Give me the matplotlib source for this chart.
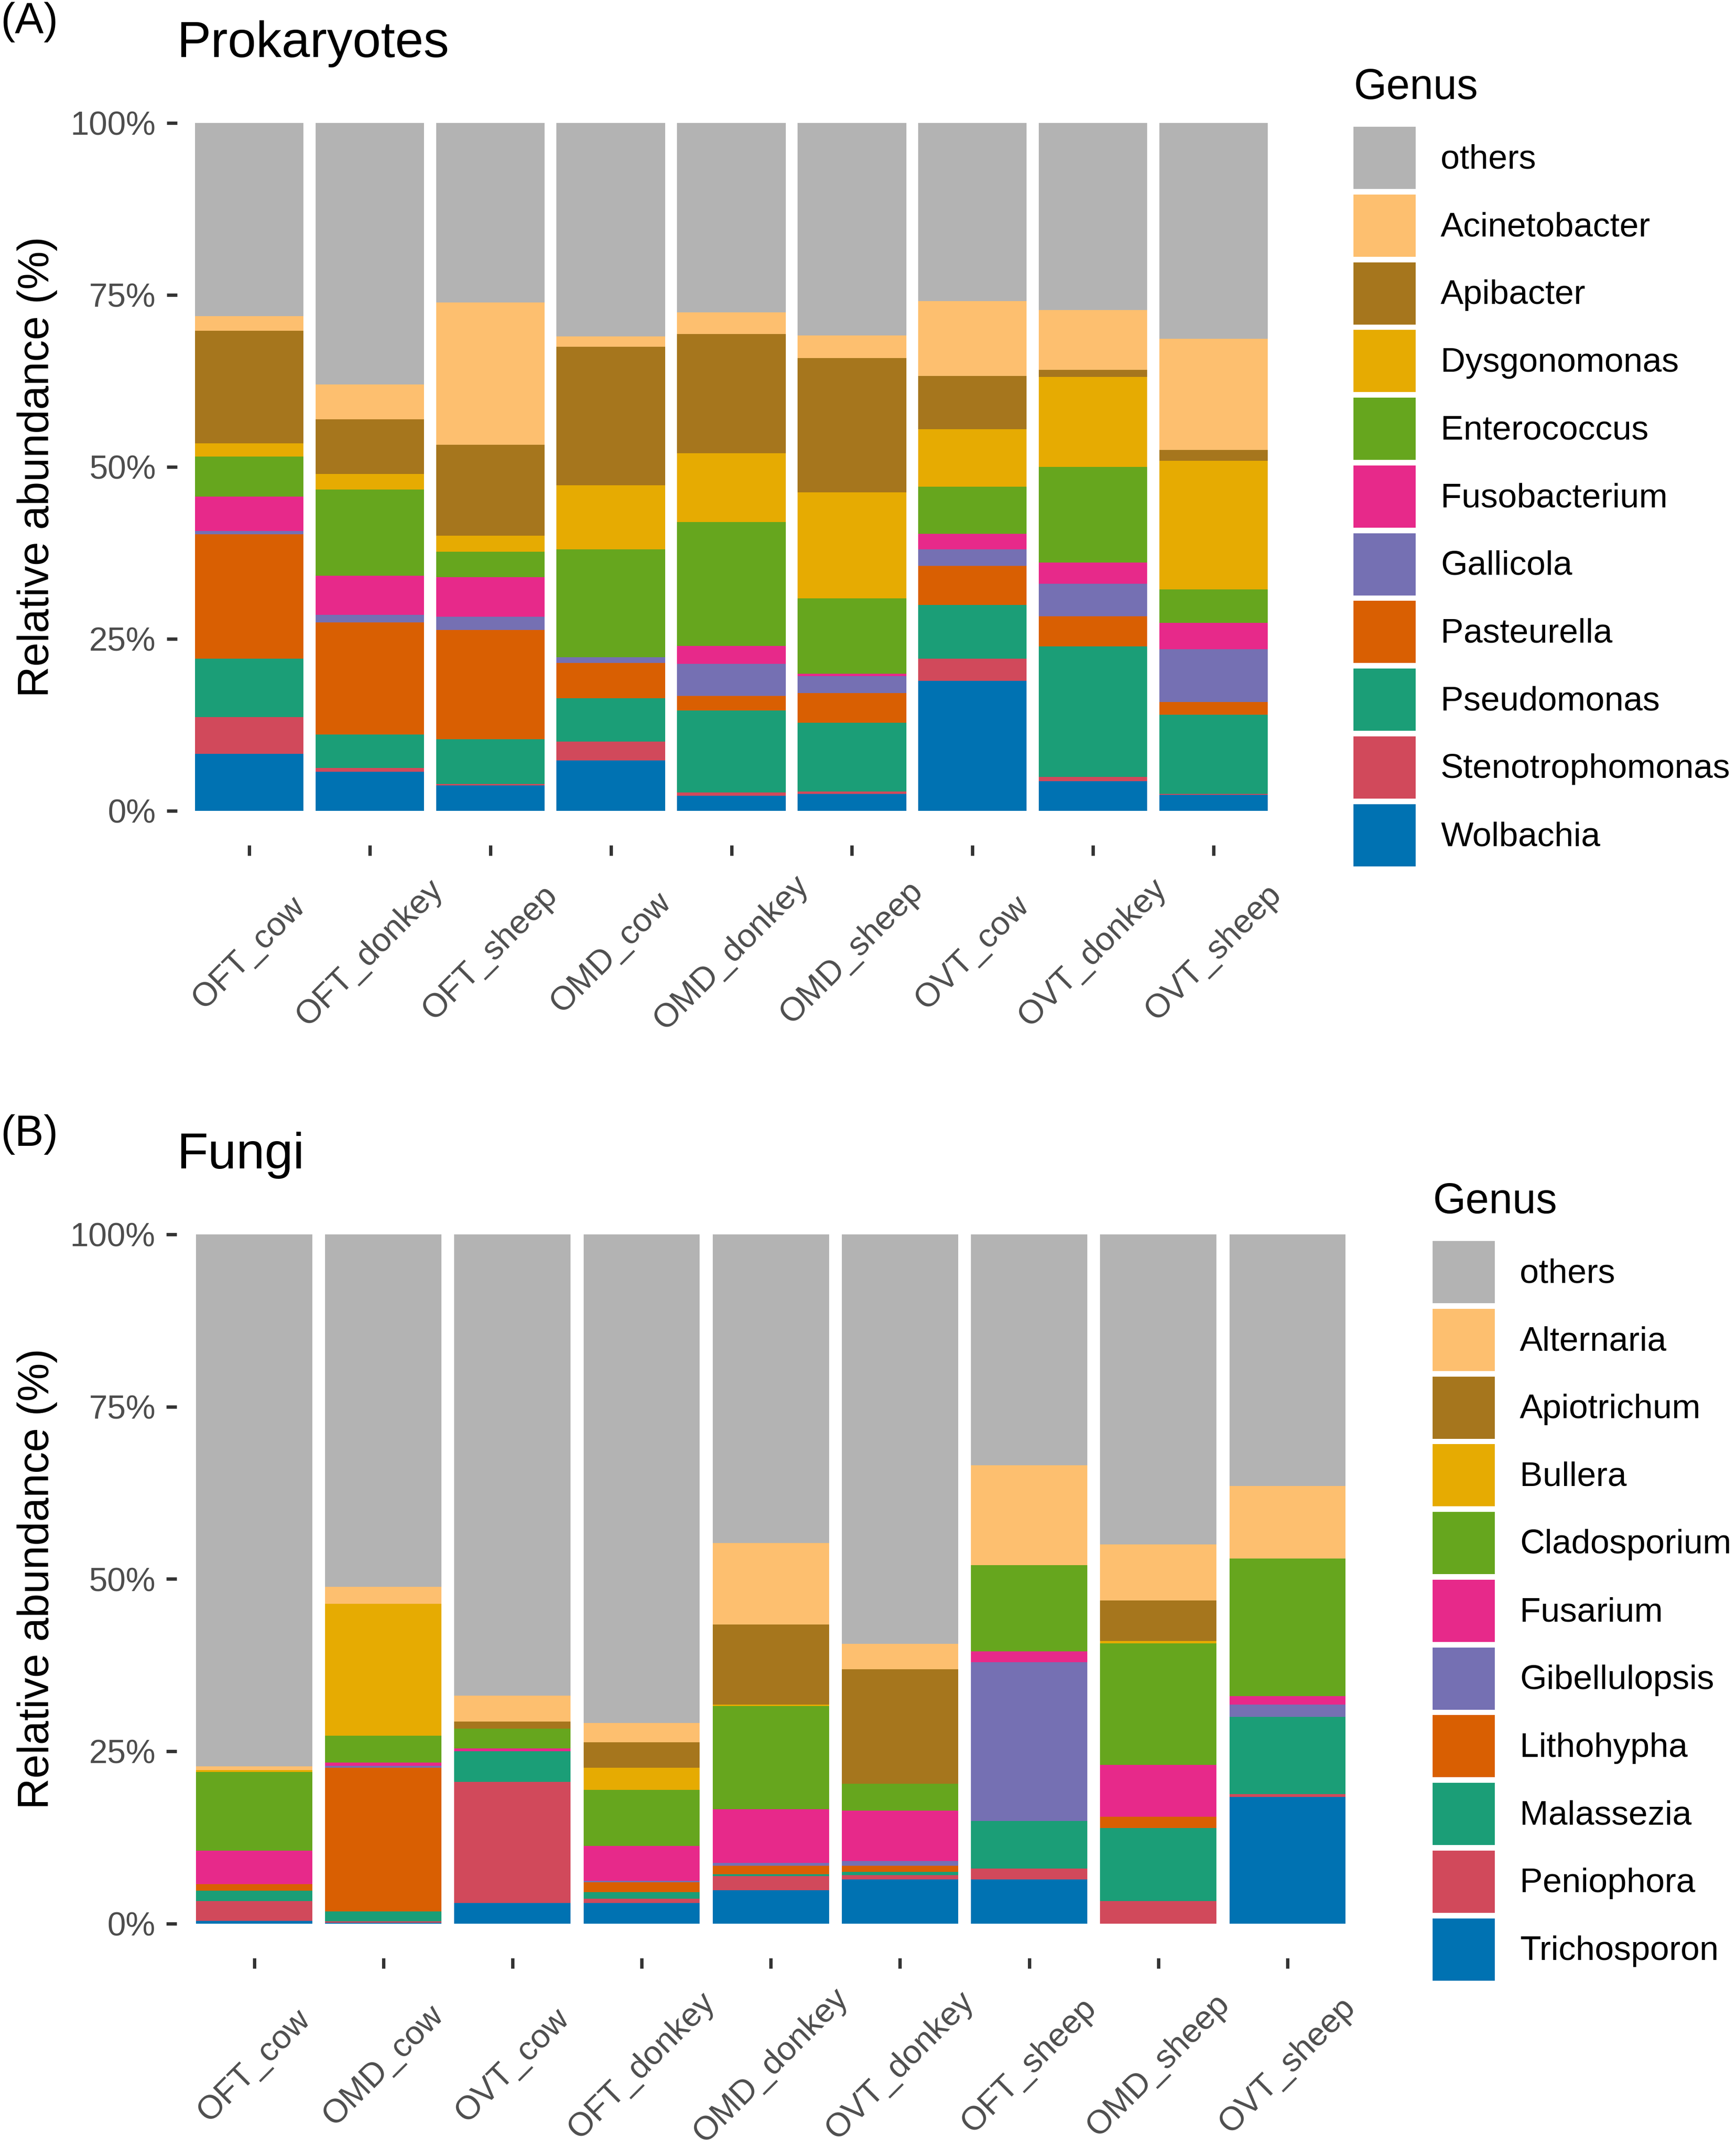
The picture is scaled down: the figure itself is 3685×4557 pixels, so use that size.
import matplotlib
matplotlib.use("Agg")
import matplotlib.pyplot as plt
import numpy as np

plt.rcParams['font.family'] = ['Liberation Sans', 'DejaVu Sans']

# ---- data (percent of reads) ----
prok_samples = ['OFT_cow', 'OFT_donkey', 'OFT_sheep', 'OMD_cow', 'OMD_donkey',
                'OMD_sheep', 'OVT_cow', 'OVT_donkey', 'OVT_sheep']
prok_genera = ['others', 'Acinetobacter', 'Apibacter', 'Dysgonomonas', 'Enterococcus',
               'Fusobacterium', 'Gallicola', 'Pasteurella', 'Pseudomonas',
               'Stenotrophomonas', 'Wolbachia']
prok_others = [28.1, 38.0, 26.1, 31.0, 27.5, 30.9, 25.9, 27.2, 31.4]
prok_acinetobacter = [2.1, 5.1, 20.7, 1.5, 3.2, 3.3, 10.9, 8.7, 16.1]
prok_apibacter = [16.4, 7.9, 13.2, 20.2, 17.3, 19.5, 7.7, 1.0, 1.6]
prok_dysgonomonas = [1.9, 2.3, 2.3, 9.3, 10.0, 15.4, 8.4, 13.1, 18.7]
prok_enterococcus = [5.8, 12.5, 3.7, 15.7, 18.0, 11.0, 6.8, 13.9, 4.9]
prok_fusobacterium = [5.0, 5.7, 5.8, 0.0, 2.6, 0.3, 2.3, 3.1, 3.8]
prok_gallicola = [0.5, 1.1, 1.9, 0.8, 4.7, 2.5, 2.4, 4.7, 7.7]
prok_pasteurella = [18.1, 16.3, 15.9, 5.1, 2.1, 4.3, 5.7, 4.4, 1.8]
prok_pseudomonas = [8.5, 4.9, 6.5, 6.3, 11.9, 10.0, 7.8, 19.0, 11.5]
prok_stenotrophomonas = [5.3, 0.5, 0.2, 2.8, 0.5, 0.3, 3.2, 0.6, 0.2]
prok_wolbachia = [8.3, 5.7, 3.7, 7.3, 2.2, 2.5, 18.9, 4.3, 2.3]

fungi_samples = ['OFT_cow', 'OMD_cow', 'OVT_cow', 'OFT_donkey', 'OMD_donkey',
                 'OVT_donkey', 'OFT_sheep', 'OMD_sheep', 'OVT_sheep']
fungi_genera = ['others', 'Alternaria', 'Apiotrichum', 'Bullera', 'Cladosporium',
                'Fusarium', 'Gibellulopsis', 'Lithohypha', 'Malassezia',
                'Peniophora', 'Trichosporon']
fungi_others = [77.2, 51.1, 66.9, 70.9, 44.8, 59.4, 33.5, 45.0, 36.5]
fungi_alternaria = [0.5, 2.5, 3.8, 2.8, 11.8, 3.7, 14.5, 8.1, 10.5]
fungi_apiotrichum = [0.0, 0.0, 1.0, 3.7, 11.6, 16.6, 0.0, 5.9, 0.0]
fungi_bullera = [0.3, 19.1, 0.0, 3.2, 0.2, 0.0, 0.0, 0.3, 0.0]
fungi_cladosporium = [11.4, 3.9, 2.9, 8.1, 15.0, 3.9, 12.5, 17.7, 20.0]
fungi_fusarium = [4.9, 0.5, 0.4, 5.1, 7.8, 7.3, 1.6, 7.5, 1.2]
fungi_gibellulopsis = [0.0, 0.3, 0.0, 0.2, 0.4, 0.7, 23.0, 0.0, 1.8]
fungi_lithohypha = [0.9, 20.8, 0.0, 1.4, 1.25, 0.9, 0.0, 1.6, 0.0]
fungi_malassezia = [1.5, 1.45, 4.4, 1.0, 0.25, 0.5, 6.9, 10.6, 11.2]
fungi_peniophora = [2.9, 0.2, 17.6, 0.6, 2.05, 0.6, 1.6, 3.3, 0.4]
fungi_trichosporon = [0.4, 0.15, 3.0, 3.0, 4.85, 6.4, 6.4, 0.0, 18.4]

palette = ['#B3B3B3', '#FDBF6F', '#A6761D', '#E6AB02', '#66A61E', '#E7298A',
           '#7570B3', '#D95F02', '#1B9E77', '#D1495B', '#0072B2']

prok_values = [prok_others, prok_acinetobacter, prok_apibacter, prok_dysgonomonas,
               prok_enterococcus, prok_fusobacterium, prok_gallicola, prok_pasteurella,
               prok_pseudomonas, prok_stenotrophomonas, prok_wolbachia]
fungi_values = [fungi_others, fungi_alternaria, fungi_apiotrichum, fungi_bullera,
                fungi_cladosporium, fungi_fusarium, fungi_gibellulopsis, fungi_lithohypha,
                fungi_malassezia, fungi_peniophora, fungi_trichosporon]

W, H = 3685, 4557
fig = plt.figure(figsize=(W / 300, H / 300), dpi=300)


def draw_panel(rect, samples, genera, values, title, tag, tag_top, ylab_x,
               leg_key_x, leg_key_top, leg_title_baseline):
    ax = fig.add_axes(rect)
    x = np.arange(len(samples))
    bottom = np.zeros(len(samples))
    handles = {}
    # stack from the last genus (bottom) to "others" (top)
    for name, vals, col in reversed(list(zip(genera, values, palette))):
        vals = np.array(vals)
        b = ax.bar(x, vals, bottom=bottom, width=0.9, color=col, linewidth=0)
        handles[name] = b
        bottom = bottom + vals

    ax.set_xlim(-0.6, len(samples) - 0.4)
    ax.set_ylim(-5, 105)
    ax.set_yticks([0, 25, 50, 75, 100])
    ax.set_yticklabels(['0%', '25%', '50%', '75%', '100%'])
    ax.set_xticks(x)
    ax.set_xticklabels(samples)
    for s in ax.spines.values():
        s.set_visible(False)
    ax.tick_params(axis='both', length=5.3, width=1.7, color='#333333',
                   labelcolor='#4D4D4D', labelsize=17)
    ax.tick_params(axis='y', pad=5.5)
    ax.tick_params(axis='x', pad=49.5)
    # labels centred under their ticks, like ggplot's hjust = vjust = 0.5
    plt.setp(ax.get_xticklabels(), rotation=45, ha='center', va='center')

    ax.set_ylabel('Relative abundance (%)', fontsize=22, color='black')
    ax.yaxis.label.set_va('center')
    ax.yaxis.set_label_coords(ylab_x, 0.5)
    ax.set_title(title, loc='left', fontsize=26, pad=16)

    fig.text(0.0005, tag_top, tag, fontsize=22, va='top', ha='left')

    fig.text(leg_key_x, leg_title_baseline, 'Genus', fontsize=21.5, va='baseline', ha='left')
    ax.legend([handles[g] for g in genera], genera, loc='upper left',
              bbox_to_anchor=(leg_key_x, leg_key_top), bbox_transform=fig.transFigure,
              frameon=False, fontsize=17.5, borderpad=0, borderaxespad=0,
              handlelength=1.81, handleheight=2.41, labelspacing=0.16,
              handletextpad=0.73)
    return ax


draw_panel([375.5 / W, 1 - 1794 / H, 2354 / W, 1606 / H],
           prok_samples, prok_genera, prok_values, 'Prokaryotes', '(A)',
           1 - 4 / H, -0.126, 2873 / W, 1 - 269 / H, 1 - 210 / H)

draw_panel([375 / W, 1 - 4156 / H, 2522.5 / W, 1609 / H],
           fungi_samples, fungi_genera, fungi_values, 'Fungi', '(B)',
           1 - 2365 / H, -0.1173, 3041 / W, 1 - 2634 / H, 1 - 2575 / H)

fig.savefig('out.png', dpi=300)
